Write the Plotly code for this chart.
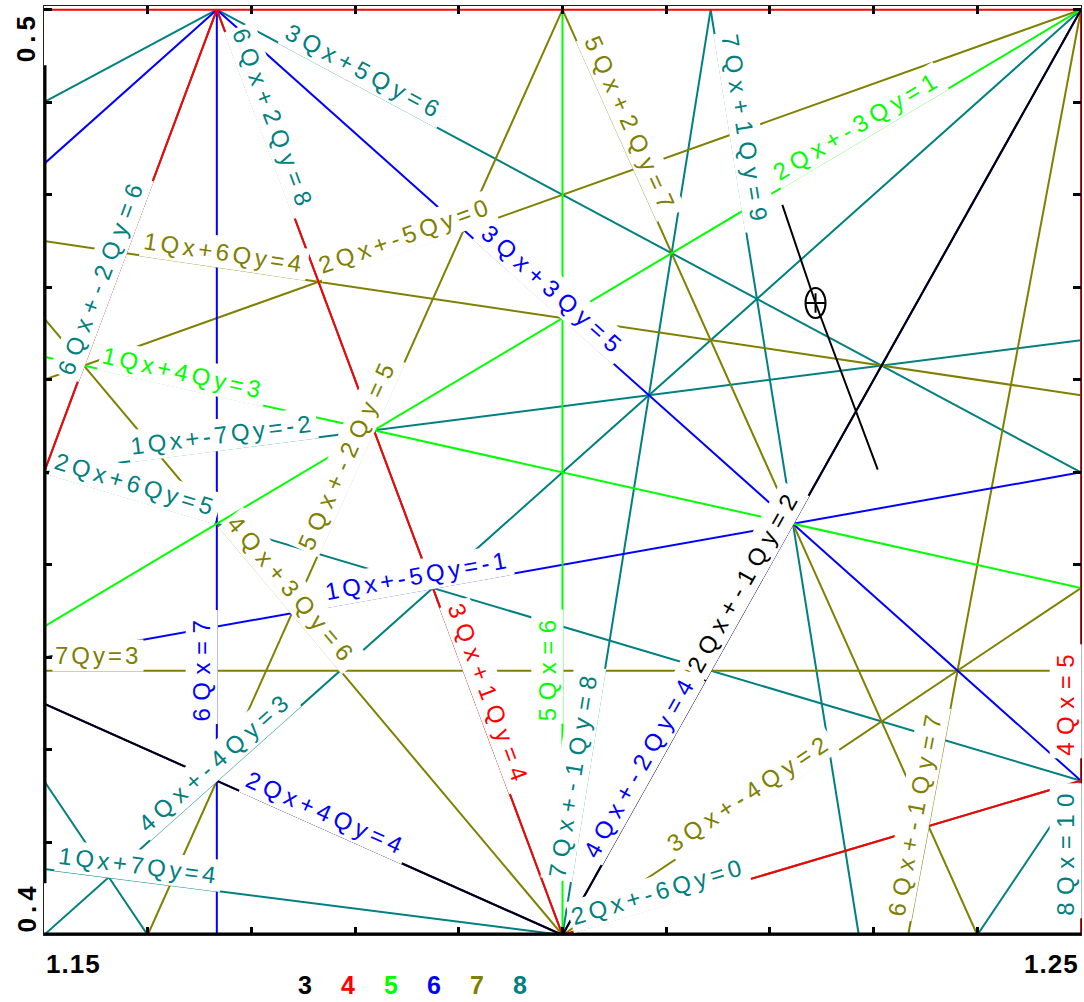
import math
import plotly.graph_objects as go

# ---- tune window -------------------------------------------------------
QX_RANGE = [1.15, 1.25]
QY_RANGE = [0.40, 0.50]

# ---- resonance lines  m*Qx + n*Qy = p  (orders 3..8) -------------------
res_m = [1, 2,
         4, 0, 3, 3, 1,
         5, 1, 2,
         6, 1, 3, 3, 4, 2,
         0, 6, 1, 5, 5, 2, 4, 3,
         8, 7, 7, 1, 1, 6, 6, 2, 2, 5, 5, 3, 3, 4]
res_n = [2, -1,
         0, 4, 1, -1, -3,
         0, 4, -3,
         0, -5, 3, -3, -2, 4,
         7, -1, 6, 2, -2, -5, 3, -4,
         0, 1, -1, 7, -7, 2, -2, 6, -6, 3, -3, 5, -5, -4]
res_p = [2, 2,
         5, 2, 4, 3, 0,
         6, 3, 1,
         7, -1, 5, 2, 4, 4,
         3, 7, 4, 7, 5, 0, 6, 2,
         10, 9, 8, 4, -2, 8, 6, 5, 0, 7, 5, 6, 1, 3]

# colour of each resonance order
orders = [3, 4, 5, 6, 7, 8]
order_colors = ["#000000", "#ff0000", "#00ff00", "#0000ff", "#808000", "#008080"]

# where each line label sits (foot point on the line)
label_at_qx = {
    "1Qx+4Qy=3": 1.1631, "2Qx+-3Qy=1": 1.2291, "1Qx+-5Qy=-1": 1.1863,
    "3Qx+3Qy=5": 1.1982, "2Qx+4Qy=4": 1.1767, "7Qy=3": 1.1552,
    "1Qx+6Qy=4": 1.1672, "2Qx+-5Qy=0": 1.1853, "3Qx+-4Qy=2": 1.2188,
    "1Qx+7Qy=4": 1.1590, "1Qx+-7Qy=-2": 1.1674, "2Qx+6Qy=5": 1.1585,
    "2Qx+-6Qy=0": 1.2096, "3Qx+5Qy=6": 1.1802, "4Qx+-4Qy=3": 1.1675,
}
label_at_qy = {
    "2Qx+-1Qy=2": 0.4375, "4Qx=5": 0.4252, "3Qx+1Qy=4": 0.4253,
    "5Qx=6": 0.4290, "6Qx=7": 0.4290, "4Qx+-2Qy=4": 0.4175,
    "6Qx+-1Qy=7": 0.4130, "5Qx+2Qy=7": 0.4868, "5Qx+-2Qy=5": 0.4514,
    "4Qx+3Qy=6": 0.4362, "8Qx=10": 0.4091, "7Qx+1Qy=9": 0.4866,
    "7Qx+-1Qy=8": 0.4172, "6Qx+2Qy=8": 0.4875, "6Qx+-2Qy=6": 0.4706,
}

# working point and its tune-spread line
wp_qx = [1.2244]
wp_qy = [0.4683]
spread_qx = [1.2212, 1.2244, 1.2304]
spread_qy = [0.4789, 0.4683, 0.4503]

x_tick_vals = [1.15, 1.25]
x_tick_text = ["1.15", "1.25"]
y_tick_vals = [0.40, 0.50]
y_tick_text = ["0.4", "0.5"]

# ---- page geometry -------------------------------------------------------
W, H = 1084, 1002
ML, MR, MT, MB = 44, 3, 6, 67
Y_TOP = 0.5004
KX = (W - ML - MR) / (QX_RANGE[1] - QX_RANGE[0])
KY = (H - MT - MB) / (Y_TOP - QY_RANGE[0])
FONT = "Liberation Sans, Arial, sans-serif"


def label_text(m, n, p):
    s = ""
    if m:
        s += f"{m}Qx"
    if n:
        s += (f"+{n}Qy" if m else f"{n}Qy")
    return s + f"={p}"


def clip_line(m, n, p):
    x0, x1 = QX_RANGE
    y0, y1 = QY_RANGE
    eps = 1e-9
    pts = []
    if n == 0:
        x = p / m
        if x0 - eps <= x <= x1 + eps:
            return [x, x], [y0, y1]
        return None
    if m == 0:
        y = p / n
        if y0 - eps <= y <= y1 + eps:
            return [x0, x1], [y, y]
        return None
    for x in (x0, x1):
        y = (p - m * x) / n
        if y0 - eps <= y <= y1 + eps:
            pts.append((x, y))
    for y in (y0, y1):
        x = (p - n * y) / m
        if x0 - eps <= x <= x1 + eps:
            pts.append((x, y))
    uniq = []
    for pt in pts:
        if all(abs(pt[0] - q[0]) > 1e-7 or abs(pt[1] - q[1]) > 1e-7 for q in uniq):
            uniq.append(pt)
    if len(uniq) < 2:
        return None
    uniq.sort()
    return [uniq[0][0], uniq[-1][0]], [uniq[0][1], uniq[-1][1]]


def screen_angle(m, n):
    sx, sy = n * KX, m * KY          # direction along the line, y pointing down
    if sx < 0 or (sx == 0 and sy > 0):
        sx, sy = -sx, -sy
    return math.degrees(math.atan2(sy, sx))


fig = go.Figure()

# lines: highest order first so that lower orders end up on top
idx = sorted(range(len(res_m)), key=lambda i: -(abs(res_m[i]) + abs(res_n[i])))
for i in idx:
    m, n, p = res_m[i], res_n[i], res_p[i]
    seg = clip_line(m, n, p)
    if seg is None:
        continue
    col = order_colors[orders.index(abs(m) + abs(n))]
    fig.add_trace(go.Scatter(x=seg[0], y=seg[1], mode="lines",
                             line=dict(color=col, width=2),
                             hoverinfo="skip", showlegend=False))

# tune spread and working point
fig.add_trace(go.Scatter(x=spread_qx, y=spread_qy, mode="lines",
                         line=dict(color="black", width=2),
                         hoverinfo="skip", showlegend=False))
fig.add_trace(go.Scatter(x=wp_qx, y=wp_qy, mode="markers",
                         marker=dict(symbol="cross-thin-open", size=14, color="black",
                                     line=dict(color="black", width=2)),
                         hoverinfo="skip", showlegend=False))

shapes = [
    dict(type="circle", xref="x", yref="y", xsizemode="pixel", ysizemode="pixel",
         xanchor=wp_qx[0], yanchor=wp_qy[0], x0=-10, x1=10, y0=-15, y1=15,
         line=dict(color="black", width=2)),
    # heavy bottom axis
    dict(type="line", xref="x", yref="y", x0=QX_RANGE[0], x1=QX_RANGE[1],
         y0=QY_RANGE[0], y1=QY_RANGE[0], line=dict(color="black", width=5),
         layer="above"),
    # heavy left axis bar
    dict(type="line", xref="x", yref="y", x0=QX_RANGE[0], x1=QX_RANGE[0],
         y0=0.4056, y1=0.4940, line=dict(color="black", width=5),
         layer="above"),
]

annotations = []
D = 15
for i in range(len(res_m)):
    m, n, p = res_m[i], res_n[i], res_p[i]
    txt = label_text(m, n, p)
    if txt in label_at_qx:
        qx = label_at_qx[txt]
        qy = p / n if m == 0 else (p - m * qx) / n
    elif txt in label_at_qy:
        qy = label_at_qy[txt]
        qx = (p - n * qy) / m
    else:
        continue
    th = screen_angle(m, n)
    r = math.radians(th)
    ls = 3.0 + 4.5 * abs(math.sin(r))
    col = order_colors[orders.index(abs(m) + abs(n))]
    annotations.append(dict(
        x=qx, y=qy, xref="x", yref="y", showarrow=False,
        text=f'<span style="letter-spacing:{ls:.1f}px">{txt}</span>',
        textangle=th, xshift=D * math.sin(r), yshift=D * math.cos(r),
        font=dict(family=FONT, size=24, color=col),
        bgcolor="white", borderpad=2,
    ))

# axis end labels
for v, t, anc in zip(x_tick_vals, x_tick_text, ["left", "right"]):
    annotations.append(dict(
        x=v, y=0, xref="x", yref="paper", xanchor=anc, yanchor="top",
        yshift=-12, showarrow=False,
        text=f'<span style="letter-spacing:1px"><b>{t}</b></span>',
        font=dict(family=FONT, size=26, color="black")))
for v, t, anc in zip(y_tick_vals, y_tick_text, ["bottom", "top"]):
    annotations.append(dict(
        x=0, y=v, xref="paper", yref="y", xanchor="right", yanchor=anc,
        xshift=-1, showarrow=False, textangle=-90,
        text=f'<span style="letter-spacing:5px"><b>{t}</b></span>',
        font=dict(family=FONT, size=26, color="black")))

# order key
for k, (o, c) in enumerate(zip(orders, order_colors)):
    annotations.append(dict(
        x=(305 - ML) / (W - ML - MR) + k * 0.0415, y=0, xref="paper", yref="paper",
        yshift=-50, showarrow=False, xanchor="center", yanchor="middle",
        text=f"<b>{o}</b>", font=dict(family=FONT, size=25, color=c)))

axis_common = dict(showgrid=False, zeroline=False, showticklabels=False,
                   ticks="inside", ticklen=8, tickwidth=3, tickcolor="black",
                   dtick=0.01, showline=True, linecolor="#222", linewidth=1,
                   mirror="ticks")
fig.update_layout(
    width=W, height=H, margin=dict(l=ML, r=MR, t=MT, b=MB),
    paper_bgcolor="white", plot_bgcolor="white",
    xaxis=dict(range=QX_RANGE, tick0=1.15, **axis_common),
    yaxis=dict(range=[QY_RANGE[0], Y_TOP], tick0=0.4, **axis_common),
    shapes=shapes, annotations=annotations, showlegend=False,
)

fig.write_html("out.html")
